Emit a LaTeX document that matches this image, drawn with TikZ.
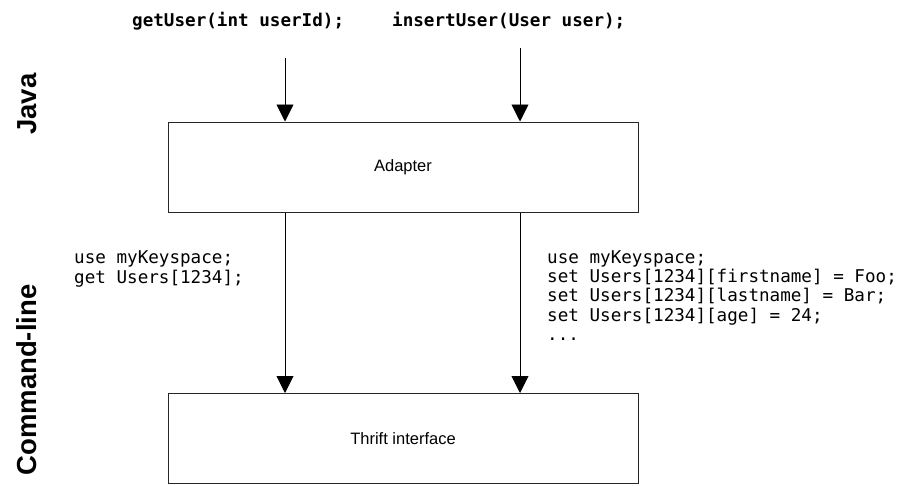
\documentclass[tikz,border=0pt]{standalone}
\usepackage{fontspec}
\setmainfont{Liberation Sans}
\setmonofont{DejaVu Sans Mono}
\usetikzlibrary{arrows.meta}

\begin{document}
\begin{tikzpicture}[x=1pt,y=-1pt,
  block/.style={draw=black!85, line width=1pt, minimum width=470pt, minimum height=90pt,
    inner sep=0pt, font=\fontsize{16.5}{18}\selectfont},
  flow/.style={draw=black, line width=0.9pt, -{Triangle[width=17pt,length=17pt]}},
  code/.style={font=\fontsize{17.6}{19.5}\selectfont\ttfamily, anchor=base west, inner sep=0pt},
  call/.style={font=\fontsize{17.6}{20}\selectfont\ttfamily\bfseries, anchor=base west, inner sep=0pt},
  layer/.style={font=\fontsize{27.5}{30}\selectfont\bfseries, rotate=90, anchor=base, inner sep=0pt}]
\useasboundingbox (0,0) rectangle (902,485);

% layer captions
\node[layer] (java) at (36.5,104) {Java};
\node[layer] (cli)  at (36.5,380) {Command-line};

% the two components
\node[block] (adapter) at (403,167) {Adapter};
\node[block] (thrift)  at (403,438.5) {Thrift interface};

% Java API calls
\node[call] (getcall) at (132,26) {getUser(int userId);};
\node[call] (inscall) at (392,26) {insertUser(User user);};

% entry points of the two call paths
\coordinate (getin) at (285,58);
\coordinate (insin) at (520,48);

\draw[flow] (getin) -- (getin |- adapter.north);
\draw[flow] (insin) -- (insin |- adapter.north);
\draw[flow] (adapter.south -| getin) -- (thrift.north -| getin);
\draw[flow] (adapter.south -| insin) -- (thrift.north -| insin);

% equivalent command-line statements
\node[code] (g1) at (74,263)   {use myKeyspace;};
\node[code] (g2) at (74,283)   {get Users[1234];};

\node[code] (s1) at (547,263)   {use myKeyspace;};
\node[code] (s2) at (547,282.4) {set Users[1234][firstname] = Foo;};
\node[code] (s3) at (547,301.8) {set Users[1234][lastname] = Bar;};
\node[code] (s4) at (547,321.2) {set Users[1234][age] = 24;};
\node[code] (s5) at (547,340.6) {...};
\end{tikzpicture}
\end{document}
